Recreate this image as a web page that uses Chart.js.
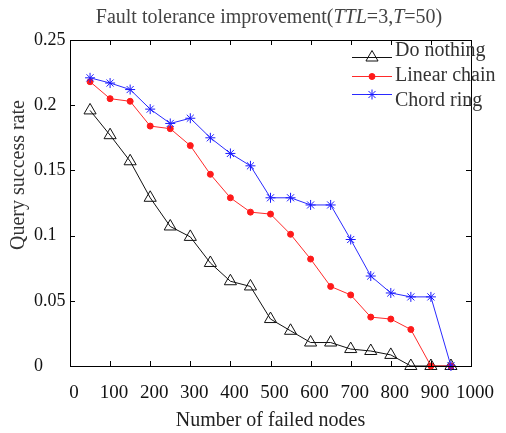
<!DOCTYPE html>
<html>
<head>
<meta charset="utf-8">
<script src="https://cdn.jsdelivr.net/npm/chart.js@4.4.1/dist/chart.umd.min.js"></script>
<style>
  html, body { margin: 0; padding: 0; background: #fff; }
  #wrap { width: 506px; height: 433px; }
</style>
</head>
<body>
<div id="wrap"><canvas id="c" width="506" height="433"></canvas></div>
<script>
// ---- data ----
const failedNodes = [50,100,150,200,250,300,350,400,450,500,550,600,650,700,750,800,850,900,950];
const doNothing   = [0.196,0.177,0.157,0.129,0.107,0.099,0.079,0.065,0.061,0.036,0.027,0.018,0.018,0.013,0.0115,0.0085,0,0,0];
const linearChain = [0.218,0.205,0.203,0.184,0.182,0.169,0.147,0.129,0.118,0.1165,0.101,0.082,0.061,0.0545,0.0375,0.036,0.028,0,0];
const chordRing   = [0.221,0.217,0.212,0.197,0.186,0.190,0.175,0.163,0.1535,0.129,0.129,0.1235,0.1235,0.097,0.069,0.056,0.053,0.053,0];
const seriesNames = ['Do nothing','Linear chain','Chord ring'];
const xTickLabels = ['0','100','200','300','400','500','600','700','800','900','1000'];
const yTickLabels = ['0','0.05','0.1','0.15','0.2','0.25'];
const titleParts  = [['Fault tolerance improvement(', false], ['TTL', true], ['=3,', false], ['T', true], ['=50)', false]];
const xAxisTitle  = 'Number of failed nodes';
const yAxisTitle  = 'Query success rate';

const SERIF = '"Liberation Serif", "Times New Roman", "DejaVu Serif", serif';

function pts(ys) { return failedNodes.map((x, i) => ({ x: x, y: ys[i] })); }

const decorPlugin = {
  id: 'decor',
  afterDraw(chart) {
    const ctx = chart.ctx;
    const a = chart.chartArea;
    const xs = chart.scales.x, ys = chart.scales.y;
    ctx.save();
    // frame
    ctx.strokeStyle = '#000';
    ctx.lineWidth = 1;
    ctx.strokeRect(Math.round(a.left) + 0.5, Math.round(a.top) + 0.5,
                   Math.round(a.right - a.left), Math.round(a.bottom - a.top));
    // inward ticks
    const tl = 5;
    ctx.beginPath();
    xs.ticks.forEach(t => {
      const px = Math.round(xs.getPixelForValue(t.value)) + 0.5;
      ctx.moveTo(px, a.bottom); ctx.lineTo(px, a.bottom - tl);
      ctx.moveTo(px, a.top); ctx.lineTo(px, a.top + tl);
    });
    ys.ticks.forEach(t => {
      const py = Math.round(ys.getPixelForValue(t.value)) + 0.5;
      ctx.moveTo(a.left, py); ctx.lineTo(a.left + tl, py);
      ctx.moveTo(a.right, py); ctx.lineTo(a.right - tl, py);
    });
    ctx.stroke();

    // title with italic parts
    const fsz = 20;
    ctx.fillStyle = '#444';
    ctx.textBaseline = 'middle';
    ctx.textAlign = 'left';
    let total = 0;
    titleParts.forEach(p => {
      ctx.font = (p[1] ? 'italic ' : '') + fsz + 'px ' + SERIF;
      total += ctx.measureText(p[0]).width;
    });
    let tx = 269 - total / 2;
    titleParts.forEach(p => {
      ctx.font = (p[1] ? 'italic ' : '') + fsz + 'px ' + SERIF;
      ctx.fillText(p[0], tx, 18);
      tx += ctx.measureText(p[0]).width;
    });

    // y axis title
    ctx.save();
    ctx.translate(19, 175);
    ctx.rotate(-Math.PI / 2);
    ctx.font = '20px ' + SERIF;
    ctx.fillStyle = '#333';
    ctx.textAlign = 'center';
    ctx.textBaseline = 'middle';
    ctx.fillText(yAxisTitle, 0, 0);
    ctx.restore();

    // legend
    const lineY = [57, 76, 94];
    const textY = [51, 76, 101];
    chart.data.datasets.forEach((ds, i) => {
      ctx.save();
      ctx.strokeStyle = ds.borderColor;
      ctx.lineWidth = 1;
      ctx.beginPath();
      ctx.moveTo(352, lineY[i] + 0.5);
      ctx.lineTo(392, lineY[i] + 0.5);
      ctx.stroke();
      ctx.fillStyle = ds.pointBackgroundColor;
      ctx.strokeStyle = ds.pointBorderColor;
      ctx.lineWidth = ds.pointBorderWidth;
      Chart.helpers.drawPoint(ctx, {
        pointStyle: ds.pointStyle, radius: ds.pointRadius, rotation: 0,
        borderWidth: ds.pointBorderWidth
      }, 372, lineY[i] + 0.5);
      ctx.restore();
      ctx.font = '20px ' + SERIF;
      ctx.fillStyle = '#333';
      ctx.textAlign = 'left';
      ctx.textBaseline = 'middle';
      ctx.fillText(ds.label, 395, textY[i]);
    });
    ctx.restore();
  }
};

new Chart(document.getElementById('c'), {
  type: 'line',
  data: {
    datasets: [
      {
        label: seriesNames[0], data: pts(doNothing), order: 3,
        borderColor: '#111', borderWidth: 1,
        pointStyle: 'triangle', pointRadius: 7, pointBorderWidth: 1,
        pointBackgroundColor: 'rgba(255,255,255,0)', pointBorderColor: '#111',
        clip: false, tension: 0
      },
      {
        label: seriesNames[1], data: pts(linearChain), order: 2,
        borderColor: '#ff2a2a', borderWidth: 1,
        pointStyle: 'circle', pointRadius: 3, pointBorderWidth: 1,
        pointBackgroundColor: '#ff1a1a', pointBorderColor: '#ff1a1a',
        clip: false, tension: 0
      },
      {
        label: seriesNames[2], data: pts(chordRing), order: 1,
        borderColor: '#2a2aff', borderWidth: 1,
        pointStyle: 'star', pointRadius: 5, pointBorderWidth: 1,
        pointBackgroundColor: '#1a1aff', pointBorderColor: '#1a1aff',
        clip: false, tension: 0
      }
    ]
  },
  options: {
    responsive: false,
    animation: false,
    devicePixelRatio: 1,
    layout: { padding: { left: 34, right: 28, top: 40, bottom: 0 } },
    plugins: { legend: { display: false }, tooltip: { enabled: false }, title: { display: false } },
    scales: {
      x: {
        type: 'linear', min: 0, max: 1000,
        grid: { display: false, drawTicks: false },
        border: { display: false },
        ticks: {
          stepSize: 100, padding: 16, labelOffset: 4, maxRotation: 0, autoSkip: false,
          color: '#111', font: { family: SERIF, size: 19 },
          callback: (v, i) => xTickLabels[i]
        },
        title: {
          display: true, text: xAxisTitle, color: '#222',
          font: { family: SERIF, size: 20 }, padding: { top: 0, bottom: 0 }
        },
        afterFit: s => { s.height = 67; }
      },
      y: {
        type: 'linear', min: 0, max: 0.25,
        grid: { display: false, drawTicks: false },
        border: { display: false },
        ticks: {
          stepSize: 0.05, crossAlign: 'far', padding: 4, autoSkip: false,
          color: '#111', font: { family: SERIF, size: 18 },
          callback: (v, i) => yTickLabels[i]
        },
        afterFit: s => { s.width = 36; }
      }
    }
  },
  plugins: [decorPlugin]
});
</script>
</body>
</html>
